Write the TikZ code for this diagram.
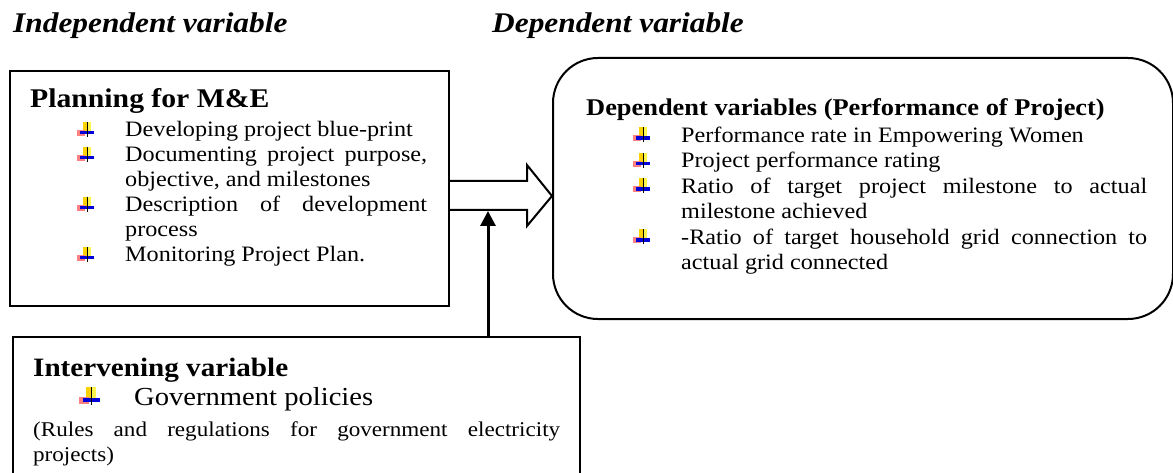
\documentclass[tikz,border=0pt]{standalone}
\usepackage{fontspec}
\setmainfont[FakeStretch=1.1]{Liberation Serif}
\usetikzlibrary{arrows.meta}
\tikzset{
    varbox/.style={draw=black, line width=2pt, inner sep=0pt, anchor=north west},
    roundbox/.style={varbox, rounded corners=45pt},
    boxtext/.style={inner sep=0pt, anchor=base west, align=justify},
    header/.style={inner sep=0pt, anchor=base west, font=\fontsize{28.5}{34}\selectfont\bfseries\itshape},
    blockarrow/.style={draw=black, line width=2pt, line join=miter},
    upline/.style={draw=black, line width=3pt, -{Triangle[length=15pt,width=15pt]}}
}
% coloured list mark
\newcommand{\wingbullet}[1][1]{\tikz[x=#1pt,y=#1pt,baseline=0pt,line width=0pt]{
    \fill[yellow!70!white] (6,6) rectangle (14,15);
    \fill[yellow!70!orange] (6,6) rectangle (10,15);
    \fill[red!50] (0,1) rectangle (8,7);
    \fill[blue!85!black] (3,2.5) rectangle (17,6);
    \draw[black, line width=1.1pt] (10,0) -- (10,15);
}}
\newcommand{\bitem}[1]{\par\hangindent=95pt\hangafter=1\noindent\hspace*{47pt}\makebox[48pt][l]{\wingbullet}#1}

\begin{document}
\begin{tikzpicture}[x=1pt, y=-1pt]
  \useasboundingbox (0,0) rectangle (1173,473);
  \clip (0,0) rectangle (1173,473);

  % headings
  \node [header] (indephead) at (13,33) {Independent variable};
  \node [header] (dephead) at (492,33) {Dependent variable};

  % boxes
  \node [varbox, minimum width=439pt, minimum height=235pt] (plan) at (9,70) {};
  \node [roundbox, minimum width=620pt, minimum height=261pt] (dep) at (552,57) {};
  \node [varbox, minimum width=567pt, minimum height=170pt] (interv) at (12,336) {};

  % box contents
  \node [boxtext, text width=397pt] (plantext) at (30,108) {%
    \fontsize{27}{32}\selectfont\bfseries Planning for M\&E\par
    \vspace{4pt}\fontsize{22}{25}\selectfont\mdseries
    \bitem{Developing project blue-print}
    \bitem{Documenting project purpose,\linebreak objective, and milestones}
    \bitem{Description of development\linebreak process}
    \bitem{Monitoring Project Plan.}\par};
  \node [boxtext, text width=561pt] (deptext) at (586,116) {%
    \fontsize{24}{30}\selectfont\bfseries Dependent variables (Performance of Project)\par
    \vspace{1pt}\fontsize{22}{25.5}\selectfont\mdseries
    \bitem{Performance rate in Empowering Women}
    \bitem{Project performance rating}
    \bitem{Ratio of target project milestone to actual\linebreak milestone achieved}
    \bitem{-Ratio of target household grid connection to\linebreak actual grid connected}\par};
  \node [boxtext, text width=527pt] (intervtext) at (33,376) {%
    \fontsize{26.5}{30}\selectfont\bfseries Intervening variable\par
    \fontsize{26}{29}\selectfont\mdseries
    \noindent\hspace*{46pt}\makebox[55pt][l]{\wingbullet[1.2]}Government policies\par
    \vspace{6pt}\fontsize{21}{25}\selectfont
    (Rules and regulations for government electricity\linebreak projects)\par};

  % connectors
  \coordinate (arrowtip) at (488,211);
  \draw [blockarrow] (plan.east |- 0,181) -- (527,181) -- (527,165)
    -- (dep.west |- 0,196) -- (527,226) -- (527,210) -- (plan.east |- 0,210);
  \draw [upline] (interv.north -| 488,0) -- (arrowtip);
\end{tikzpicture}
\end{document}
